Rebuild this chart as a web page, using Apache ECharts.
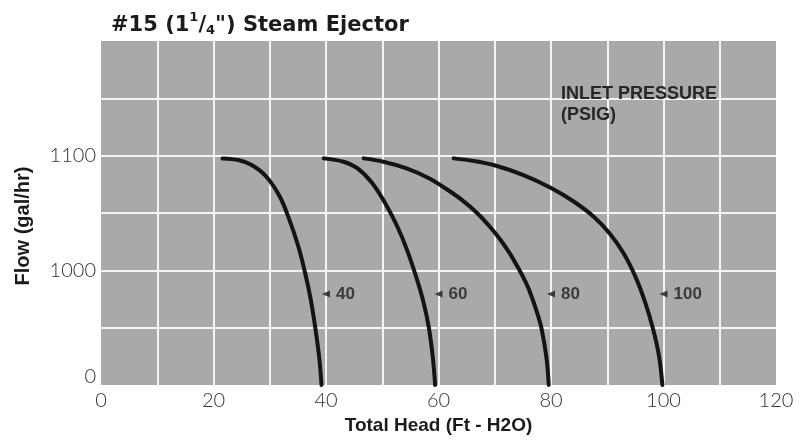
<!DOCTYPE html>
<html>
<head>
<meta charset="utf-8">
<script src="https://cdn.jsdelivr.net/npm/echarts@6/dist/echarts.min.js"></script>
<style>html,body{margin:0;padding:0;background:#fff;}#c{width:806px;height:440px;}</style>
</head>
<body>
<div id="c"></div>
<script>
// ---- data ----
const xTicks = [0, 10, 20, 30, 40, 50, 60, 70, 80, 90, 100, 110, 120];
const xTickLabels = ['0', '', '20', '', '40', '', '60', '', '80', '', '100', '', '120'];
const yTickLabels = ['0', '', '1000', '', '1100', '', ''];
const pressures = [40, 60, 80, 100];
// [total head (ft H2O), flow]
const curve40 = [[21.6,1087],[24.4,1079],[26.8,1055],[29.4,999],[31.8,903],[33.5,792],[35.1,663],[36.3,536],[37.3,408],[38.1,273],[38.8,130],[39.2,0]];
const curve60 = [[39.6,1087],[43.1,1071],[45.5,1041],[48.2,969],[50.5,873],[52.7,759],[54.4,648],[56.2,504],[57.4,390],[58.3,273],[59.0,130],[59.4,0]];
const curve80 = [[46.7,1087],[50.2,1071],[54.2,1040],[58.3,992],[61.4,940],[64.2,887],[66.9,824],[69.1,760],[70.9,700],[72.7,630],[74.4,550],[75.3,504],[76.2,450],[77.5,350],[78.3,273],[79.2,130],[79.6,0]];
const curve100 = [[62.7,1087],[66.2,1075],[69.8,1055],[75.1,1007],[80.1,944],[84.1,879],[87.6,807],[90.4,728],[92.9,632],[95.0,520],[96.7,400],[98.1,273],[99.2,140],[99.8,0]];
const labelFlow = 437;

const chart = echarts.init(document.getElementById('c'), null, {renderer: 'canvas'});
const curves = [curve40, curve60, curve80, curve100];

const series = curves.map((d, i) => ({
  type: 'line',
  name: String(pressures[i]),
  data: d,
  smooth: 0.35,
  showSymbol: false,
  lineStyle: {color: '#141414', width: 4, cap: 'round', join: 'round'},
  z: 3
}));
series.push({
  type: 'scatter',
  data: pressures.map(p => [p, labelFlow]),
  symbol: 'triangle',
  symbolRotate: 90,
  symbolSize: [7, 8],
  itemStyle: {color: '#1a1a1a'},
  label: {
    show: true,
    position: 'right',
    distance: 6,
    formatter: p => String(p.value[0]),
    fontFamily: 'Liberation Sans, Arial, sans-serif',
    fontWeight: 'bold',
    fontSize: 17,
    color: '#1e1e1e'
  },
  z: 4
});

chart.setOption({
  animation: false,
  title: [{
    text: '{n|#15 (1}{sup|1}{n|/}{sub|4}{n|") Steam Ejector}',
    left: 106,
    top: 6,
    textStyle: {
      rich: {
        n: {fontFamily: 'DejaVu Sans', fontWeight: 'bold', fontSize: 21, color: '#1b1b1b', lineHeight: 30},
        sup: {fontFamily: 'DejaVu Sans', fontWeight: 'bold', fontSize: 13, color: '#1b1b1b', verticalAlign: 'top', padding: [0,0,8,0], lineHeight: 30},
        sub: {fontFamily: 'DejaVu Sans', fontWeight: 'bold', fontSize: 13, color: '#1b1b1b', padding: [10,0,0,0], lineHeight: 30}
      }
    }
  }, {
    text: 'INLET PRESSURE\n(PSIG)',
    left: 556,
    top: 79,
    textStyle: {fontFamily: 'Liberation Sans, Arial, sans-serif', fontWeight: 'bold', fontSize: 18, lineHeight: 21, color: '#262626'}
  }],
  grid: {left: 101, right: 30, top: 41, bottom: 55, show: true, backgroundColor: '#a9a9a9', borderWidth: 0},
  xAxis: {
    type: 'value', min: 0, max: 120, interval: 10,
    name: 'Total Head (Ft - H2O)', nameLocation: 'middle', nameGap: 26,
    nameTextStyle: {fontFamily: 'Liberation Sans, Arial, sans-serif', fontWeight: 'bold', fontSize: 19, color: '#1b1b1b'},
    axisLine: {show: false}, axisTick: {show: false},
    axisLabel: {
      margin: 6,
      fontFamily: 'Lato', fontWeight: 300, fontSize: 20, color: '#333',
      formatter: (v) => xTickLabels[xTicks.indexOf(v)] || ''
    },
    splitLine: {show: true, showMinLine: false, showMaxLine: false, lineStyle: {color: '#f4f4f4', width: 2}}
  },
  yAxis: {
    type: 'value', min: 0, max: 1650, interval: 275,
    name: 'Flow (gal/hr)', nameLocation: 'middle', nameGap: 68, nameRotate: 90,
    nameTextStyle: {fontFamily: 'Liberation Sans, Arial, sans-serif', fontWeight: 'bold', fontSize: 20, color: '#1b1b1b', padding: [0, 0, 0, -26]},
    axisLine: {show: false}, axisTick: {show: false},
    axisLabel: {
      margin: 5,
      fontFamily: 'Lato', fontWeight: 300, fontSize: 20, lineHeight: 16, color: '#333',
      verticalAlignMinLabel: 'bottom',
      formatter: (v, i) => yTickLabels[Math.round(v / 275)] || ''
    },
    splitLine: {show: true, showMinLine: false, showMaxLine: false, lineStyle: {color: '#f4f4f4', width: 2}}
  },
  series: series
});
</script>
</body>
</html>
